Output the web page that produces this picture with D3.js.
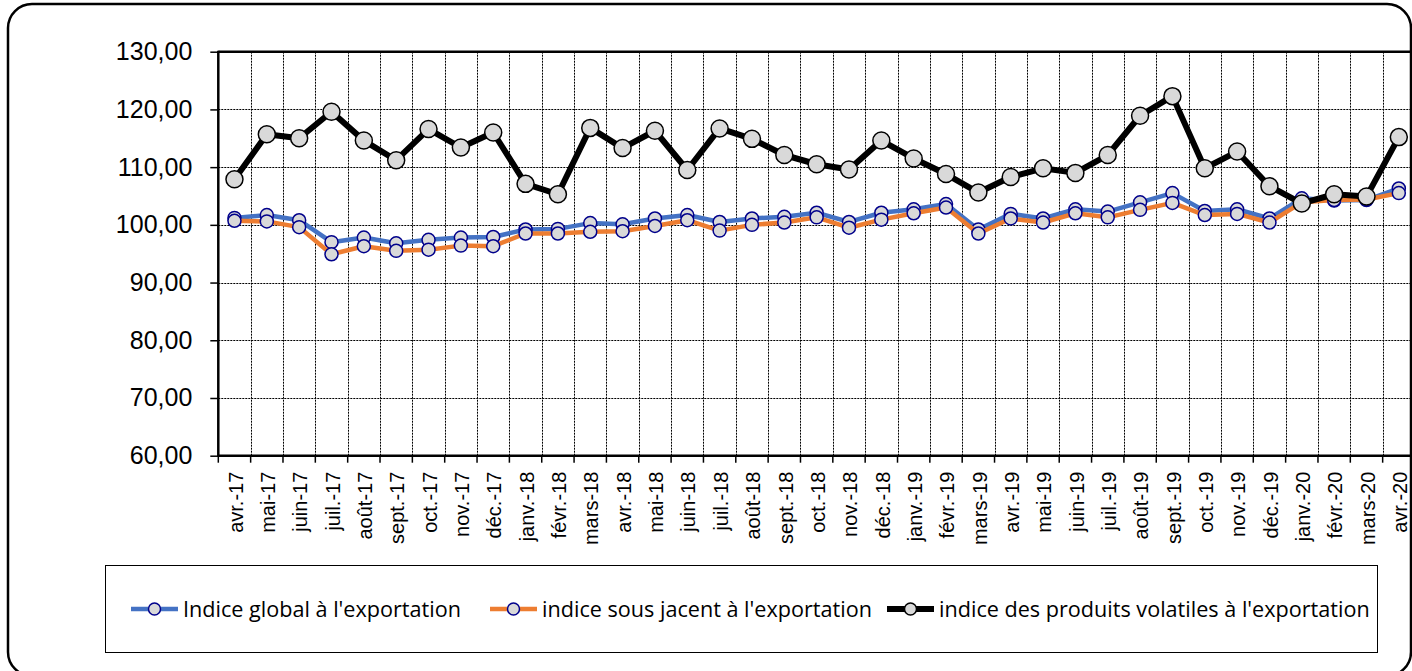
<!DOCTYPE html>
<html>
<head>
<meta charset="utf-8">
<script src="https://cdn.jsdelivr.net/npm/d3@7"></script>
<style>
  body { margin: 0; background: #fff; overflow: hidden; }
  svg { display: block; }
</style>
</head>
<body>
<svg id="chart"></svg>
<script>

// Data ///////////////////////////////////////////////////////////////////////

const months = [
    "avr.-17", "mai-17", "juin-17", "juil.-17", "août-17", "sept.-17", "oct.-17", "nov.-17", "déc.-17",
    "janv.-18", "févr.-18", "mars-18", "avr.-18", "mai-18", "juin-18", "juil.-18", "août-18", "sept.-18",
    "oct.-18", "nov.-18", "déc.-18", "janv.-19", "févr.-19", "mars-19", "avr.-19", "mai-19", "juin-19",
    "juil.-19", "août-19", "sept.-19", "oct.-19", "nov.-19", "déc.-19", "janv.-20", "févr.-20", "mars-20",
    "avr.-20"
];

const globalIdx = [
    101.2, 101.7, 100.8, 97.0, 97.8, 96.8, 97.4, 97.8, 97.9,
    99.2, 99.3, 100.3, 100.1, 101.1, 101.7, 100.5, 101.1, 101.4,
    102.1, 100.5, 102.1, 102.7, 103.6, 99.2, 101.9, 101.1, 102.7,
    102.3, 103.9, 105.5, 102.4, 102.7, 101.1, 104.6, 104.2, 104.3,
    106.3
];

const sousJacentIdx = [
    100.7, 100.6, 99.6, 94.9, 96.3, 95.5, 95.7, 96.4, 96.3,
    98.5, 98.5, 98.8, 98.9, 99.8, 100.8, 99.0, 100.0, 100.4,
    101.3, 99.5, 100.9, 102.0, 103.0, 98.5, 101.1, 100.4, 102.0,
    101.3, 102.6, 103.8, 101.7, 101.9, 100.4, 103.9, 104.3, 104.4,
    105.5
];

const volatileIdx = [
    107.9, 115.7, 115.0, 119.6, 114.6, 111.2, 116.6, 113.4, 116.0,
    107.1, 105.3, 116.8, 113.3, 116.3, 109.5, 116.7, 114.9, 112.1,
    110.5, 109.6, 114.6, 111.5, 108.8, 105.6, 108.3, 109.8, 109.0,
    112.1, 118.9, 122.3, 109.8, 112.7, 106.7, 103.7, 105.3, 104.9,
    115.2
];

const yTicks = [60, 70, 80, 90, 100, 110, 120, 130];

const seriesNames = [
    "Indice global à l'exportation",
    "indice sous jacent à l'exportation",
    "indice des produits volatiles à l'exportation"
];


// Setup //////////////////////////////////////////////////////////////////////

const params = {
    width: 1412,
    height: 671,
    plotLeft: 218.3,
    plotRight: 1415,
    plotTop: 51.7,
    plotBottom: 455.7,
    legendTextWidth: 278
};

const frLocale = d3.formatLocale({
    decimal: ",", thousands: " ", grouping: [3], currency: ["", " €"]
});
const fmt = frLocale.format(".2f");

const series = [
    { name: seriesNames[0], values: globalIdx, color: "#4472C4", width: 4.5, r: 6.5, stroke: "#00008B" },
    { name: seriesNames[1], values: sousJacentIdx, color: "#ED7D31", width: 4.5, r: 6.5, stroke: "#00008B" },
    { name: seriesNames[2], values: volatileIdx, color: "#000000", width: 6, r: 8.5, stroke: "#000000" }
];

const svg = d3.select("#chart")
    .attr("width", params.width)
    .attr("height", params.height)
    .attr("viewBox", [0, 0, params.width, params.height]);

const x = d3.scaleBand()
    .domain(months)
    .range([params.plotLeft, params.plotRight])
    .padding(0);

const cx = d => x(d) + x.bandwidth() / 2;

const y = d3.scaleLinear()
    .domain([60, 130])
    .range([params.plotBottom, params.plotTop]);


// Frame //////////////////////////////////////////////////////////////////////

svg.append("rect")
    .attr("x", 8)
    .attr("y", 4)
    .attr("width", 1403)
    .attr("height", 672)
    .attr("rx", 24)
    .attr("fill", "#fff")
    .attr("stroke", "#000")
    .attr("stroke-width", 2.5);


// Grid ///////////////////////////////////////////////////////////////////////

const grid = svg.append("g")
    .attr("stroke", "#000")
    .attr("stroke-width", 1)
    .attr("stroke-dasharray", "2,1");

grid.selectAll("line.h")
    .data(yTicks.slice(1, -1))
    .join("line")
        .attr("class", "h")
        .attr("x1", params.plotLeft)
        .attr("x2", params.plotRight)
        .attr("y1", d => Math.round(y(d)) + .5)
        .attr("y2", d => Math.round(y(d)) + .5);

grid.selectAll("line.v")
    .data(months.slice(1))
    .join("line")
        .attr("class", "v")
        .attr("x1", d => Math.round(x(d)) + .5)
        .attr("x2", d => Math.round(x(d)) + .5)
        .attr("y1", params.plotTop)
        .attr("y2", params.plotBottom);


// Axes ///////////////////////////////////////////////////////////////////////

const yAxis = svg.append("g")
    .attr("transform", `translate(${params.plotLeft},0)`)
    .call(d3.axisLeft(y).tickValues(yTicks).tickFormat(fmt).tickSize(8).tickPadding(18));

yAxis.select(".domain").remove();
yAxis.selectAll(".tick line").attr("stroke", "#000").attr("stroke-width", 1.5);
yAxis.selectAll(".tick text")
    .attr("font-family", "'Liberation Sans', Arial, sans-serif")
    .attr("font-size", 25)
    .attr("fill", "#000");

const xAxis = svg.append("g")
    .attr("transform", `translate(0,${params.plotBottom})`)
    .call(d3.axisBottom(x).tickSize(0).tickPadding(0));

xAxis.select(".domain").remove();
xAxis.selectAll(".tick text")
    .attr("font-family", "'Liberation Sans', Arial, sans-serif")
    .attr("font-size", 20)
    .attr("fill", "#000")
    .attr("text-anchor", "end")
    .attr("transform", "translate(1,16) rotate(-90)")
    .attr("y", 0)
    .attr("x", 0)
    .attr("dy", "0.36em");

// tick marks between categories
svg.append("g")
    .selectAll("line")
    .data(months.concat(["end"]))
    .join("line")
        .attr("x1", (d, i) => params.plotLeft + i * x.bandwidth())
        .attr("x2", (d, i) => params.plotLeft + i * x.bandwidth())
        .attr("y1", params.plotBottom)
        .attr("y2", params.plotBottom + 7)
        .attr("stroke", "#000")
        .attr("stroke-width", 1.5);

// plot border
const border = svg.append("g")
    .attr("stroke", "#000")
    .attr("stroke-width", 2.5)
    .attr("fill", "none");

border.append("line")
    .attr("x1", params.plotLeft).attr("x2", params.plotRight)
    .attr("y1", params.plotTop).attr("y2", params.plotTop);
border.append("line")
    .attr("x1", params.plotLeft).attr("x2", params.plotRight)
    .attr("y1", params.plotBottom).attr("y2", params.plotBottom);
border.append("line")
    .attr("x1", params.plotLeft).attr("x2", params.plotLeft)
    .attr("y1", params.plotTop - 1).attr("y2", params.plotBottom + 1);
border.append("line")
    .attr("x1", params.plotRight).attr("x2", params.plotRight)
    .attr("y1", params.plotTop).attr("y2", params.plotBottom);


// Series /////////////////////////////////////////////////////////////////////

const line = d3.line()
    .x((d, i) => cx(months[i]))
    .y(d => y(d));

series.forEach(s => {
    const g = svg.append("g");

    g.append("path")
        .attr("d", line(s.values))
        .attr("fill", "none")
        .attr("stroke", s.color)
        .attr("stroke-width", s.width)
        .attr("stroke-linejoin", "round");

    g.selectAll("circle")
        .data(s.values)
        .join("circle")
        .attr("cx", (d, i) => cx(months[i]))
        .attr("cy", d => y(d))
        .attr("r", s.r)
        .attr("fill", "#D9D9D9")
        .attr("stroke", s.stroke)
        .attr("stroke-width", 1.5);
});


// Legend /////////////////////////////////////////////////////////////////////

svg.append("rect")
    .attr("x", 105.5)
    .attr("y", 565.5)
    .attr("width", 1272)
    .attr("height", 87)
    .attr("fill", "#fff")
    .attr("stroke", "#000")
    .attr("stroke-width", 1);

const legendX = [131, 490, 887];
const legendY = 609;

const legend = svg.append("g")
    .selectAll("g")
    .data(series)
    .join("g")
        .attr("transform", (d, i) => `translate(${legendX[i]},${legendY})`);

legend.append("line")
    .attr("x1", 0)
    .attr("x2", 47)
    .attr("stroke", d => d.color)
    .attr("stroke-width", d => d.width);

legend.append("circle")
    .attr("cx", 23.5)
    .attr("r", 6)
    .attr("fill", "#D9D9D9")
    .attr("stroke", d => d.stroke)
    .attr("stroke-width", 1.5);

const legendText = legend.append("text")
    .attr("x", 52)
    .attr("dy", "0.35em")
    .attr("font-family", "'Open Sans', Lato, sans-serif")
    .attr("font-size", 20)
    .attr("fill", "#000")
    .text(d => d.name);

// size legend font so the first label spans the same width as the original
const w0 = legendText.node().getComputedTextLength();
legendText.attr("font-size", 20 * params.legendTextWidth / w0);

</script>
</body>
</html>
